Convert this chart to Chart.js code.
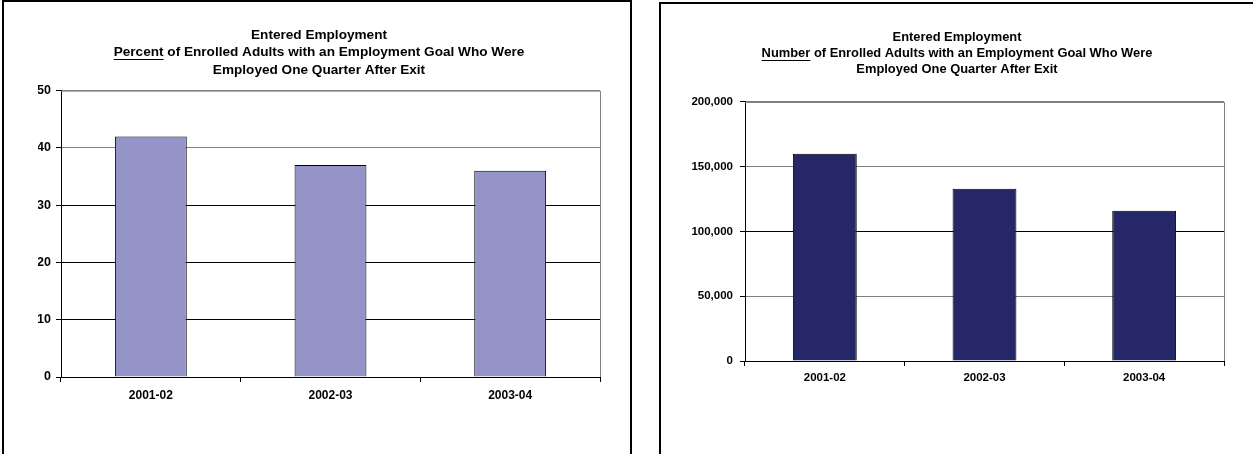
<!doctype html>
<html lang="en">
  <head>
    <meta charset="utf-8">
    <title>Entered Employment</title>
    <style>
      * {
        margin: 0;
        padding: 0;
      }
      body {
        width: 1253px;
        height: 454px;
        overflow: hidden;
        background: #fff;
        position: relative;
      }
      .panel {
        position: absolute;
        border: 2px solid #000;
        background: #fff;
      }
      #leftPanel {
        left: 2px;
        top: 0;
        width: 626px;
        height: 470px;
      }
      #rightPanel {
        left: 659px;
        top: 2px;
        width: 594px;
        height: 470px;
      }
      .box {
        position: relative;
        width: 100%;
        height: 100%;
      }
    </style>
  </head>
  <body>
    <div class="panel" id="leftPanel"><div class="box"><canvas id="pctChart"></canvas></div></div>
    <div class="panel" id="rightPanel"><div class="box"><canvas id="numChart"></canvas></div></div>
    <script src="https://cdn.jsdelivr.net/npm/chart.js"></script>
    <script>

    // data
    const years = ['2001-02', '2002-03', '2003-04'];
    const percentEmployed = [42, 37, 36];
    const numberEmployed = [160000, 133000, 116000];
    const percentTitle = ['Entered Employment', 'Percent of Enrolled Adults with an Employment Goal Who Were', 'Employed One Quarter After Exit'];
    const numberTitle = ['Entered Employment', 'Number of Enrolled Adults with an Employment Goal Who Were', 'Employed One Quarter After Exit'];

    const FONT = '"Liberation Sans", Arial, sans-serif';

    // underline first word of 2nd title line + gray top/right plot border
    const excelLook = {
      id: 'excelLook',
      afterDatasetsDraw(chart) {
        const {ctx, chartArea: a} = chart;
        ctx.save();
        ctx.strokeStyle = '#808080';
        ctx.lineWidth = 1;
        ctx.beginPath();
        ctx.moveTo(a.left, a.top + 0.5);
        ctx.lineTo(a.right + 0.5, a.top + 0.5);
        ctx.lineTo(a.right + 0.5, a.bottom);
        ctx.stroke();
        ctx.restore();
      },
      afterDraw(chart, args, opts) {
        const t = chart.options.plugins.title;
        const blk = chart.titleBlock;
        const ctx = chart.ctx;
        const size = t.font.size;
        const lh = size * t.font.lineHeight;
        ctx.save();
        ctx.font = 'bold ' + size + 'px ' + FONT;
        const line = t.text[1];
        const word = line.split(' ')[0];
        const cx = (blk.left + blk.right) / 2;
        const x0 = cx - ctx.measureText(line).width / 2;
        const w = ctx.measureText(word).width;
        const y = Math.round(blk.top + t.padding.top + lh * 1.5 + opts.offset) + 0.5;
        ctx.strokeStyle = '#000';
        ctx.lineWidth = 1;
        ctx.beginPath();
        ctx.moveTo(x0, y);
        ctx.lineTo(x0 + w, y);
        ctx.stroke();
        ctx.restore();
      }
    };

    function makeChart(id, values, title, s) {
      return new Chart(document.getElementById(id), {
        type: 'bar',
        data: {
          labels: years,
          datasets: [{
            data: values,
            backgroundColor: s.barColor,
            borderColor: '#000',
            borderWidth: 1,
            borderSkipped: 'start',
            barPercentage: 0.4,
            categoryPercentage: 1
          }]
        },
        options: {
          responsive: true,
          maintainAspectRatio: false,
          animation: false,
          layout: {
            padding: {left: s.padLeft, right: s.padRight, top: 0, bottom: s.padBottom}
          },
          plugins: {
            legend: {display: false},
            tooltip: {enabled: false},
            title: {
              display: true,
              text: title,
              color: '#000',
              font: {family: FONT, size: s.titleSize, weight: 'bold', lineHeight: s.titleLH},
              padding: {top: s.titleTop, bottom: s.titleBottom}
            },
            excelLook: {offset: s.ulOffset}
          },
          scales: {
            x: {
              afterFit: sc => { sc.height = 40; },
              grid: {
                offset: true,
                drawOnChartArea: false,
                color: '#000',
                tickColor: '#000',
                tickLength: 5
              },
              border: {color: '#000', width: 1},
              ticks: {
                color: '#000',
                padding: s.xPad,
                font: {family: FONT, size: s.tickSize, weight: 'bold'}
              }
            },
            y: {
              min: 0,
              max: s.max,
              afterFit: sc => { sc.width = s.axisW; },
              grid: {
                color: c => s.gridColor(c.tick ? c.tick.value : 0),
                tickColor: '#000',
                tickLength: 5
              },
              border: {color: '#000', width: 1},
              ticks: {
                stepSize: s.step,
                color: '#000',
                padding: s.yPad,
                font: {family: FONT, size: s.yTickSize, weight: 'bold'},
                callback: v => v.toLocaleString('en-US')
              }
            }
          }
        },
        plugins: [excelLook]
      });
    }

    makeChart('pctChart', percentEmployed, percentTitle, {
      barColor: '#9494C8',
      max: 50, step: 10,
      padLeft: 34, axisW: 23, padRight: 30, padBottom: 55,
      titleSize: 13.6, titleLH: 1.29, titleTop: 24, titleBottom: 12,
      tickSize: 12, yTickSize: 12.5, xPad: 6, yPad: 5, ulOffset: 7,
      gridColor: v => (v === 40 || v === 50) ? '#808080' : '#000'
    });

    makeChart('numChart', numberEmployed, numberTitle, {
      barColor: '#262769',
      max: 200000, step: 50000,
      padLeft: 29, axisW: 55, padRight: 31, padBottom: 73,
      titleSize: 12.9, titleLH: 1.24, titleTop: 25, titleBottom: 25,
      tickSize: 11.5, yTickSize: 11.5, xPad: 5, yPad: 7, ulOffset: 7,
      gridColor: v => v === 100000 ? '#000' : '#808080'
    });
    </script>
  </body>
</html>
